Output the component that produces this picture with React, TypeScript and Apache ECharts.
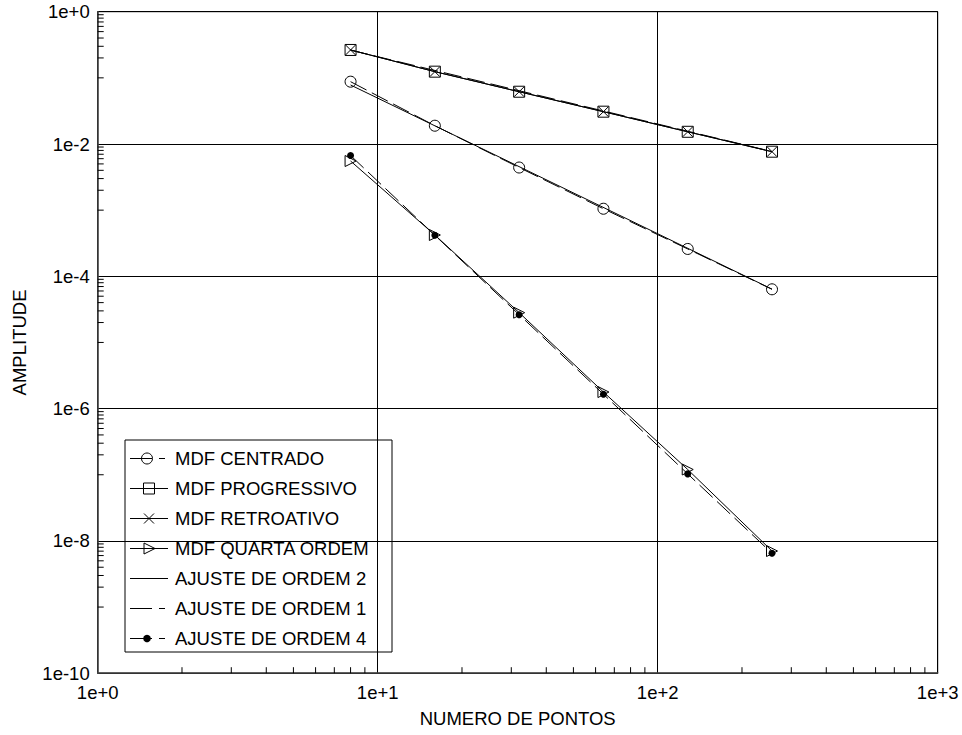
import React, { useEffect, useRef } from 'react';
import * as echarts from 'echarts';

// Number of points (x) for all MDF series
const nPoints = [8, 16, 32, 64, 128, 256];

// Series values
const mdfCentrado = [0.0875, 0.0189, 0.00441, 0.00105, 2.59e-4, 6.36e-5];
const mdfProgressivo = [0.264, 0.124, 0.0617, 0.0308, 0.0153, 0.00765];
const mdfRetroativo = [0.264, 0.124, 0.0617, 0.0308, 0.0153, 0.00765];
const mdfQuartaOrdem = [5.53e-3, 4.21e-4, 2.82e-5, 1.78e-6, 1.2e-7, 7.03e-9];

// Fit lines (straight in log-log, endpoints)
const ajusteOrdem2X = [8, 256];
const ajusteOrdem2 = [0.078, 6.4e-5];
const ajusteOrdem1X = [8, 256];
const ajusteOrdem1 = [0.262, 0.0077];
const ajusteOrdem4 = [6.7e-3, 4.17e-4, 2.63e-5, 1.65e-6, 1.03e-7, 6.5e-9];

// Tick labels
const xTickLabels = ['1e+0', '1e+1', '1e+2', '1e+3'];
const yTickLabels = ['1e-10', '1e-8', '1e-6', '1e-4', '1e-2', '1e+0'];

// Minor tick positions
const xMinorTicks = [2, 3, 4, 5, 6, 7, 8, 9, 20, 30, 40, 50, 60, 70, 80, 90, 200, 300, 400, 500, 600, 700, 800, 900];
const yMinorTicks = [
  0.1, 0.2, 0.3, 0.4, 0.5, 0.6, 0.7, 0.8, 0.9,
  1e-3, 2e-3, 3e-3, 4e-3, 5e-3, 6e-3, 7e-3, 8e-3, 9e-3,
  1e-5, 2e-5, 3e-5, 4e-5, 5e-5, 6e-5, 7e-5, 8e-5, 9e-5,
  1e-7, 2e-7, 3e-7, 4e-7, 5e-7, 6e-7, 7e-7, 8e-7, 9e-7,
  1e-9, 2e-9, 3e-9, 4e-9, 5e-9, 6e-9, 7e-9, 8e-9, 9e-9,
];

// Legend entries
const legendNames = [
  'MDF CENTRADO',
  'MDF PROGRESSIVO',
  'MDF RETROATIVO',
  'MDF QUARTA ORDEM',
  'AJUSTE DE ORDEM 2',
  'AJUSTE DE ORDEM 1',
  'AJUSTE DE ORDEM 4',
];
const legendMarkers = ['circle', 'square', 'cross', 'triangle', 'none', 'none', 'dot'];
const legendDashed = [true, false, false, false, false, true, true];

const FONT = '"Liberation Sans", Arial, Helvetica, sans-serif';
const DASH = [18, 6];

const pairs = (xs: number[], ys: number[]) => xs.map((x, i) => [x, ys[i]]);

function buildLegend() {
  const boxX = 125, boxY = 440, boxW = 267, boxH = 212;
  const rowY0 = 458.3, rowStep = 29.95;
  const x0 = 130, x1 = 168, cx = 149;
  const stroke = { stroke: '#000', lineWidth: 1 };
  const children: any[] = [
    { type: 'rect', shape: { x: boxX, y: boxY, width: boxW, height: boxH }, style: { fill: '#fff', stroke: '#000', lineWidth: 1 } },
  ];
  legendNames.forEach((name, i) => {
    const y = Math.round(rowY0 + rowStep * i) + 0.5;
    if (legendDashed[i]) {
      children.push({ type: 'line', shape: { x1: x0, y1: y, x2: 152, y2: y }, style: stroke });
      children.push({ type: 'line', shape: { x1: 159, y1: y, x2: 165, y2: y }, style: stroke });
    } else {
      children.push({ type: 'line', shape: { x1: x0, y1: y, x2: x1, y2: y }, style: stroke });
    }
    const m = legendMarkers[i];
    if (m === 'circle') {
      children.push({ type: 'circle', shape: { cx: cx - 2, cy: y, r: 5.5 }, style: { fill: 'none', stroke: '#000', lineWidth: 1 } });
    } else if (m === 'square') {
      children.push({ type: 'rect', shape: { x: cx - 5.5, y: y - 5.5, width: 11, height: 11 }, style: { fill: 'none', stroke: '#000', lineWidth: 1 } });
    } else if (m === 'cross') {
      children.push({ type: 'line', shape: { x1: cx - 5, y1: y - 5, x2: cx + 5, y2: y + 5 }, style: stroke });
      children.push({ type: 'line', shape: { x1: cx - 5, y1: y + 5, x2: cx + 5, y2: y - 5 }, style: stroke });
    } else if (m === 'triangle') {
      children.push({ type: 'polygon', shape: { points: [[cx - 5, y - 5.5], [cx + 6, y], [cx - 5, y + 5.5]] }, style: { fill: 'none', stroke: '#000', lineWidth: 1 } });
    } else if (m === 'dot') {
      children.push({ type: 'circle', shape: { cx: cx - 2, cy: y, r: 3.8 }, style: { fill: '#000' } });
    }
    children.push({
      type: 'text',
      x: 175,
      y,
      style: { text: name, fill: '#000', font: `18.5px ${FONT}`, verticalAlign: 'middle', align: 'left' },
    });
  });
  return { type: 'group', z: 100, silent: true, children };
}

export default function App() {
  const ref = useRef<HTMLDivElement>(null);

  useEffect(() => {
    if (!ref.current) return;
    const chart = echarts.init(ref.current, undefined, { renderer: 'svg' });

    const base = {
      type: 'line',
      animation: false,
      silent: true,
      emphasis: { disabled: true },
      z: 3,
    };
    const hollow = { color: 'none', borderColor: '#000', borderWidth: 1 };

    const option: any = {
      animation: false,
      backgroundColor: '#fff',
      grid: {
        left: 97.7,
        right: 24.3,
        top: 11.7,
        bottom: 61.8,
        show: true,
        borderColor: '#000',
        borderWidth: 1,
        backgroundColor: 'transparent',
      },
      legend: { show: false },
      graphic: [buildLegend()],
      xAxis: {
        type: 'log',
        logBase: 10,
        min: 1,
        max: 1000,
        name: 'NUMERO DE PONTOS',
        nameLocation: 'middle',
        nameGap: 36,
        nameTextStyle: { fontFamily: FONT, fontSize: 18.5, color: '#000' },
        axisLine: { show: true, lineStyle: { color: '#444', width: 1.5 } },
        axisTick: { show: false },
        splitLine: { show: true, lineStyle: { color: '#000', width: 1 } },
        axisLabel: {
          fontFamily: FONT,
          fontSize: 18.5,
          color: '#000',
          margin: 10,
          formatter: (v: number) => xTickLabels[Math.round(Math.log10(v))],
        },
      },
      yAxis: {
        type: 'log',
        logBase: 10,
        min: 1e-10,
        max: 1,
        interval: 2,
        name: 'AMPLITUDE',
        nameLocation: 'middle',
        nameRotate: 90,
        nameGap: 69,
        nameTextStyle: { fontFamily: FONT, fontSize: 18.5, color: '#000' },
        axisLine: { show: true, lineStyle: { color: '#444', width: 1.5 } },
        axisTick: { show: false },
        splitLine: { show: true, lineStyle: { color: '#000', width: 1 } },
        axisLabel: {
          fontFamily: FONT,
          fontSize: 18.5,
          color: '#000',
          margin: 8,
          formatter: (v: number) => {
            const e = Math.round(Math.log10(v));
            return yTickLabels[(e + 10) / 2] ?? '';
          },
        },
      },
      series: [
        {
          ...base,
          name: 'MDF CENTRADO',
          data: pairs(nPoints, mdfCentrado),
          symbol: 'circle',
          symbolSize: 11,
          lineStyle: { color: '#000', width: 1, type: DASH },
          itemStyle: hollow,
        },
        {
          ...base,
          name: 'MDF PROGRESSIVO',
          data: pairs(nPoints, mdfProgressivo),
          symbol: 'rect',
          symbolSize: 11,
          lineStyle: { color: '#000', width: 1 },
          itemStyle: hollow,
        },
        {
          ...base,
          name: 'MDF RETROATIVO',
          data: pairs(nPoints, mdfRetroativo),
          symbol: 'path://M0,0L10,10M0,10L10,0',
          symbolSize: 10,
          lineStyle: { color: '#000', width: 1 },
          itemStyle: hollow,
        },
        {
          ...base,
          name: 'MDF QUARTA ORDEM',
          data: pairs(nPoints, mdfQuartaOrdem),
          symbol: 'path://M0,0L10,5L0,10Z',
          symbolSize: 11,
          lineStyle: { color: '#000', width: 1 },
          itemStyle: hollow,
        },
        {
          ...base,
          name: 'AJUSTE DE ORDEM 2',
          data: pairs(ajusteOrdem2X, ajusteOrdem2),
          symbol: 'none',
          lineStyle: { color: '#000', width: 1 },
        },
        {
          ...base,
          name: 'AJUSTE DE ORDEM 1',
          data: pairs(ajusteOrdem1X, ajusteOrdem1),
          symbol: 'none',
          lineStyle: { color: '#000', width: 1, type: DASH },
        },
        {
          ...base,
          name: 'AJUSTE DE ORDEM 4',
          data: pairs(nPoints, ajusteOrdem4),
          symbol: 'circle',
          symbolSize: 7,
          lineStyle: { color: '#000', width: 1, type: DASH },
          itemStyle: { color: '#000' },
        },
        {
          type: 'custom',
          name: 'xMinorTicks',
          silent: true,
          clip: false,
          z: 2,
          data: xMinorTicks.map((v) => [v, 1e-10]),
          renderItem: (_p: any, api: any) => {
            const pt = api.coord([api.value(0), api.value(1)]);
            return {
              type: 'line',
              shape: { x1: pt[0], y1: pt[1], x2: pt[0], y2: pt[1] - 6 },
              style: { stroke: '#000', lineWidth: 1 },
            };
          },
        },
        {
          type: 'custom',
          name: 'yMinorTicks',
          silent: true,
          clip: false,
          z: 2,
          data: yMinorTicks.map((v) => [1, v]),
          renderItem: (_p: any, api: any) => {
            const pt = api.coord([api.value(0), api.value(1)]);
            return {
              type: 'line',
              shape: { x1: pt[0], y1: pt[1], x2: pt[0] + 6, y2: pt[1] },
              style: { stroke: '#000', lineWidth: 1 },
            };
          },
        },
      ],
    };

    chart.setOption(option);
    return () => chart.dispose();
  }, []);

  return (
    <div
      ref={ref}
      style={{ position: 'absolute', left: 0, top: 0, width: 962, height: 735 }}
    />
  );
}
